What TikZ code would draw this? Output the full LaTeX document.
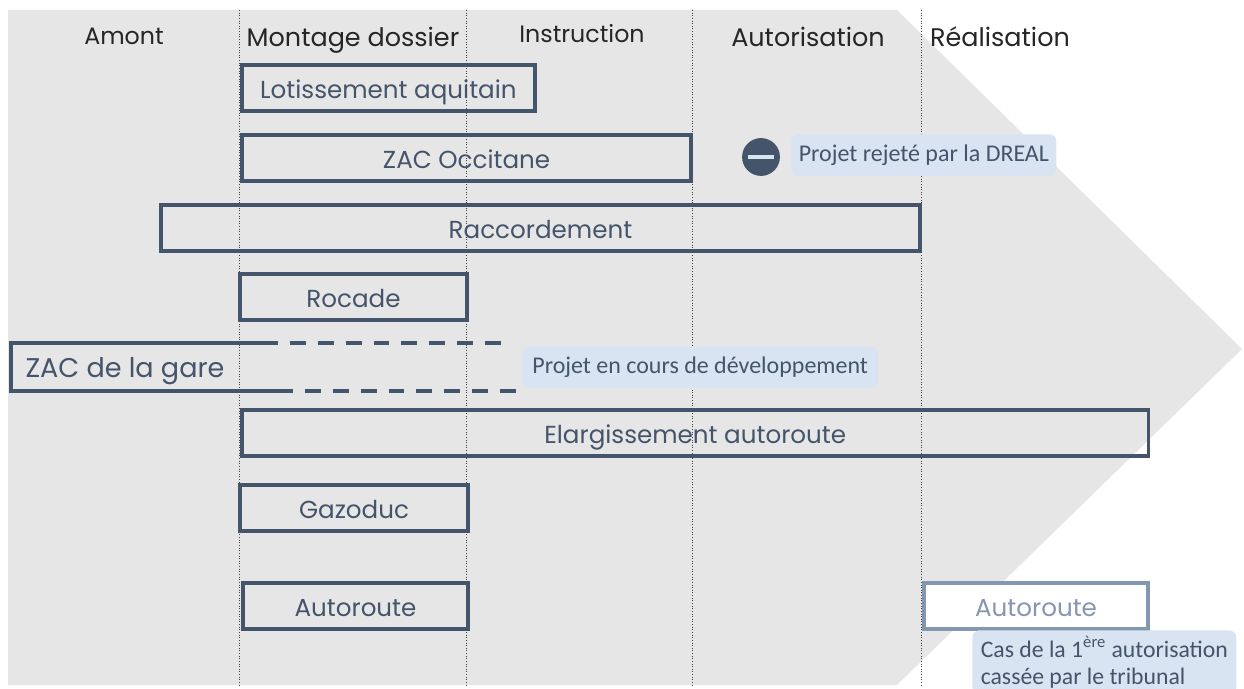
\documentclass[tikz,border=0pt]{standalone}
\usepackage{fontspec}
\setmainfont{Poppins}
\newfontfamily\notefont{Carlito}
\definecolor{fond}{HTML}{E7E6E6}
\definecolor{ardoise}{HTML}{44546A}
\definecolor{clair}{HTML}{8497B0}
\definecolor{bulle}{HTML}{D9E4F2}
\tikzset{
	phase/.style = {font=\fontsize{14.5}{16}\selectfont, text=black!85, inner sep=0pt, text height=10.5pt, text depth=0pt},
	projet/.style = {draw=ardoise, line width=2.2pt, text=ardoise, font=\fontsize{14}{16}\selectfont, inner sep=0pt, text height=12pt, text depth=0pt, anchor=north west},
	note/.style = {fill=bulle, rounded corners=4pt, text=ardoise, font=\notefont\fontsize{13.65}{15.9}\selectfont, inner sep=0pt, anchor=north west},
	jalon/.style = {densely dotted, line width=0.5pt, black!75},
	ouvert/.style = {draw=ardoise, line width=2.2pt},
	tirets/.style = {ouvert, dash pattern=on 9.07pt off 6.8pt}
}
\begin{document}
\begin{tikzpicture}[x=0.02cm,y=-0.02cm]
	\useasboundingbox (0,0) rectangle (1244,689);
	\fill[fond] (8,10) -- (897,10) -- (1242,349) -- (897,685) -- (8,685) -- cycle;
	% colonnes
		\coordinate (a1) at (239,10);
		\coordinate (a2) at (239,685);
		\coordinate (b1) at (466,10);
		\coordinate (b2) at (466,685);
		\coordinate (c1) at (692,10);
		\coordinate (c2) at (692,685);
		\coordinate (d1) at (921,10);
		\coordinate (d2) at (921,685);
		\draw[jalon] (a1) -- (a2);
		\draw[jalon] (b1) -- (b2);
		\draw[jalon] (c1) -- (c2);
		\draw[jalon] (d1) -- (d2);
	% titres
		\node[phase, font=\fontsize{13.5}{16}\selectfont] (amont) at (124,35) {Amont};
		\node[phase] (montage) at (353,37) {Montage dossier};
		\node[phase, font=\fontsize{13.5}{16}\selectfont] (instruction) at (582,33) {Instruction};
		\node[phase] (autorisation) at (808,37) {Autorisation};
		\node[phase] (realisation) at (1000,37) {Réalisation};
	% projets
		\node[projet, minimum width=294*0.567pt, minimum height=46*0.567pt] (lotissement) at (240,63) {Lotissement aquitain};
		\node[projet, minimum width=451*0.567pt, minimum height=46*0.567pt] (occitane) at (240,133) {ZAC Occitane};
		\node[projet, minimum width=762*0.567pt, minimum height=46*0.567pt] (raccordement) at (159,203) {Raccordement};
		\node[projet, minimum width=228*0.567pt, minimum height=46*0.567pt] (rocade) at (238,272) {Rocade};
		\node[projet, minimum width=910*0.567pt, minimum height=46*0.567pt] (elargissement) at (240,408) {Elargissement autoroute};
		\node[projet, minimum width=229*0.567pt, minimum height=46*0.567pt] (gazoduc) at (238,483) {Gazoduc};
		\node[projet, minimum width=226*0.567pt, minimum height=46*0.567pt] (autoroute) at (241,581) {Autoroute};
		\node[projet, draw=clair, text=clair, fill=white, minimum width=225*0.567pt, minimum height=46*0.567pt] (autoroutebis) at (922,581) {Autoroute};
	% ZAC de la gare
		\node[text=ardoise, font=\fontsize{15.4}{16}\selectfont, inner sep=0pt, text height=11pt, text depth=0pt] (gare) at (125,368) {ZAC de la gare};
		\coordinate (g1) at (262,343);
		\coordinate (g2) at (11,343);
		\coordinate (g3) at (11,391);
		\coordinate (g4) at (277,391);
		\coordinate (g5) at (503,343);
		\coordinate (g6) at (518,391);
		\draw[ouvert, line join=miter] (g1) -- (g2) -- (g3) -- (g4);
		\draw[tirets] (g1) -- (g5);
		\draw[tirets] (g4) -- (g6);
	% notes
		\node[circle, fill=ardoise, minimum size=38*0.567pt, inner sep=0pt] (rejet) at (761,157) {};
		\node[fill=bulle, minimum width=27*0.567pt, minimum height=5*0.567pt, inner sep=0pt] (moins) at (761,157) {};
		\node[note, minimum width=266*0.567pt, minimum height=42*0.567pt] (dreal) at (791,134) {Projet rejeté par la DREAL};
		\node[note, minimum width=357*0.567pt, minimum height=42*0.567pt] (cours) at (522,346) {Projet en cours de développement};
		\node[note, font=\notefont\fontsize{13.5}{15.4}\selectfont, align=left, minimum width=265*0.567pt, minimum height=64*0.567pt] (tribunal) at (972,630) {Cas de la 1\textsuperscript{ère} autorisation\\cassée par le tribunal};
\end{tikzpicture}
\end{document}
